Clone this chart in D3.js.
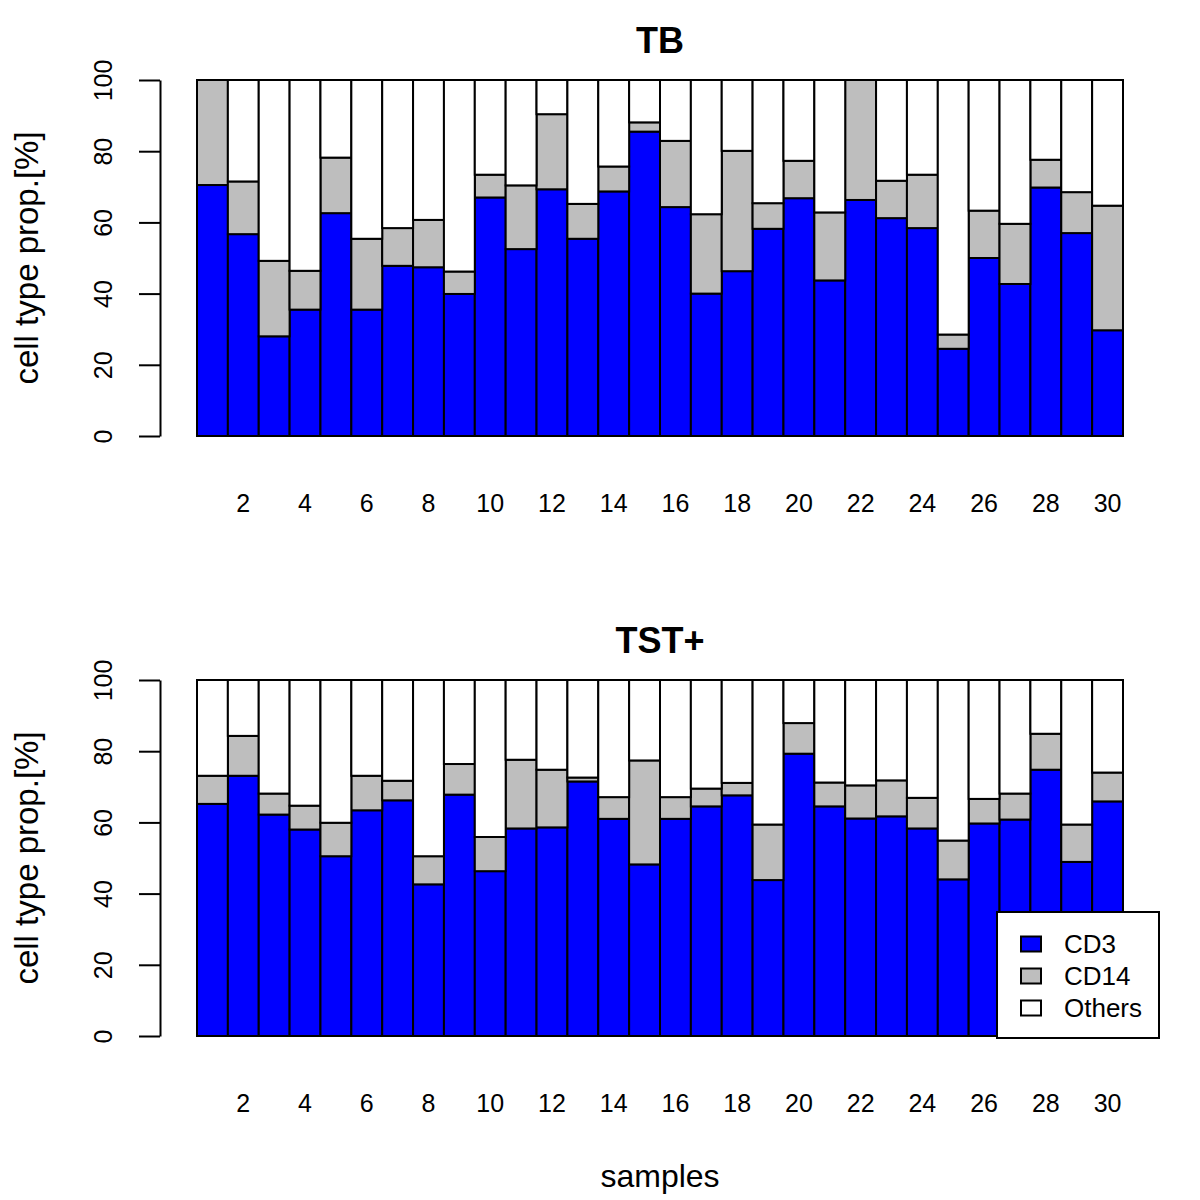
<!DOCTYPE html>
<html>
<head>
<meta charset="utf-8">
<script src="https://cdn.jsdelivr.net/npm/d3@7"></script>
<style>
  html, body { margin: 0; padding: 0; background: #fff; }
  svg text { font-family: "Liberation Sans", Arial, Helvetica, sans-serif; fill: #000; }
</style>
</head>
<body>
<svg id="chart" width="1200" height="1200"></svg>
<script>
const samples = d3.range(1, 31);
const xTickLabels = ["2","4","6","8","10","12","14","16","18","20","22","24","26","28","30"];
const yTickValues = [0, 20, 40, 60, 80, 100];
const cellTypes = ["CD3", "CD14", "Others"];
const cellColors = ["#0000ff", "#bebebe", "#ffffff"];

const tbCD3 = [70.5,56.7,28.0,35.5,62.6,35.5,47.8,47.4,39.9,67.0,52.5,69.3,55.4,68.7,85.5,64.3,40.0,46.3,58.2,66.8,43.7,66.3,61.2,58.4,24.5,50.0,42.7,69.8,57.0,29.7];
const tbCD14 = [29.5,14.8,21.2,10.9,15.6,19.9,10.6,13.3,6.3,6.4,17.9,21.1,9.8,7.0,2.6,18.6,22.3,33.8,7.2,10.5,19.1,33.7,10.5,15.0,4.0,13.3,16.9,7.8,11.5,35.0];
const tbOthers = [0,28.5,50.8,53.6,21.8,44.6,41.6,39.3,53.8,26.6,29.6,9.6,34.8,24.3,11.9,17.1,37.7,19.9,34.6,22.7,37.2,0,28.3,26.6,71.5,36.7,40.4,22.4,31.5,35.3];

const tstCD3 = [65.2,73.1,62.2,58.0,50.5,63.4,66.2,42.6,67.8,46.3,58.3,58.6,71.5,61.0,48.2,61.0,64.5,67.6,43.8,79.3,64.5,61.1,61.7,58.3,44.0,59.7,60.8,74.8,48.9,65.9];
const tstCD14 = [7.9,11.2,5.9,6.7,9.4,9.7,5.5,7.9,8.6,9.6,19.3,16.2,1.1,6.1,29.2,6.1,5.0,3.5,15.6,8.6,6.7,9.3,10.1,8.6,10.9,6.9,7.3,10.1,10.5,8.1];
const tstOthers = [26.9,15.7,31.9,35.3,40.1,26.9,28.3,49.5,23.6,44.1,22.4,25.2,27.4,32.9,22.6,32.9,30.5,28.9,40.6,12.1,28.8,29.6,28.2,33.1,45.1,33.4,31.9,15.1,40.6,26.0];

const panels = [
  { title: "TB", cd3: tbCD3, cd14: tbCD14, others: tbOthers, offset: 0, legend: false },
  { title: "TST+", cd3: tstCD3, cd14: tstCD14, others: tstOthers, offset: 600, legend: true }
];

const svg = d3.select("#chart");
const font = "\"Liberation Sans\", Arial, Helvetica, sans-serif";
const sw = 2;

const x = d3.scaleBand().domain(samples).range([197, 1123]).padding(0);

panels.forEach(p => {
  const g = svg.append("g").attr("transform", `translate(0,${p.offset})`);
  const y = d3.scaleLinear().domain([0, 100]).range([436, 80]);

  const rows = samples.map((s, i) => ({ sample: s, CD3: p.cd3[i], CD14: p.cd14[i], Others: p.others[i] }));
  const stack = d3.stack().keys(cellTypes)(rows);

  stack.forEach((layer, li) => {
    g.append("g").selectAll("rect").data(layer).join("rect")
      .attr("x", d => x(d.data.sample))
      .attr("width", x.bandwidth())
      .attr("y", d => y(d[1]))
      .attr("height", d => y(d[0]) - y(d[1]))
      .attr("fill", cellColors[li])
      .attr("stroke", "#000")
      .attr("stroke-width", sw);
  });

  // y axis
  const yAxis = d3.axisLeft(y).tickValues(yTickValues).tickSize(21).tickSizeOuter(0).tickPadding(0);
  const ya = g.append("g").attr("transform", "translate(160,0)").call(yAxis);
  ya.select(".domain").attr("stroke", "#000").attr("stroke-width", sw);
  ya.selectAll(".tick line").attr("stroke", "#000").attr("stroke-width", sw);
  ya.selectAll(".tick text")
    .attr("x", 0).attr("dy", null)
    .attr("transform", "translate(-48,0) rotate(-90)")
    .attr("text-anchor", "middle")
    .style("font-size", "25px").style("font-family", font);

  // x axis labels (no line)
  const xa = d3.axisBottom(x)
    .tickValues(xTickLabels.map(Number))
    .tickSize(0).tickPadding(0);
  const xg = g.append("g").attr("transform", "translate(0,512)").call(xa);
  xg.select(".domain").remove();
  xg.selectAll(".tick text").attr("y", 0).attr("dy", null)
    .style("font-size", "25px").style("font-family", font);

  // title
  g.append("text").attr("x", 660).attr("y", 53).attr("text-anchor", "middle")
    .style("font-size", "36px").style("font-weight", "bold").text(p.title);

  // y label
  g.append("text")
    .attr("transform", "translate(38,258) rotate(-90)")
    .attr("text-anchor", "middle")
    .style("font-size", "33px").text("cell type prop.[%]");

  if (p.legend) {
    const lg = g.append("g");
    lg.append("rect").attr("x", 997).attr("y", 312).attr("width", 162).attr("height", 126)
      .attr("fill", "#fff").attr("stroke", "#000").attr("stroke-width", sw);
    const ly = d3.scalePoint().domain(cellTypes).range([344, 408]);
    cellTypes.forEach((c, i) => {
      lg.append("rect").attr("x", 1021).attr("y", ly(c) - 7.5).attr("width", 20).attr("height", 15)
        .attr("fill", cellColors[i]).attr("stroke", "#000").attr("stroke-width", sw);
      lg.append("text").attr("x", 1064).attr("y", ly(c) + 9)
        .style("font-size", "26px").text(c);
    });
  }
});

svg.append("text").attr("x", 660).attr("y", 1187).attr("text-anchor", "middle")
  .style("font-size", "32px").text("samples");
</script>
</body>
</html>
